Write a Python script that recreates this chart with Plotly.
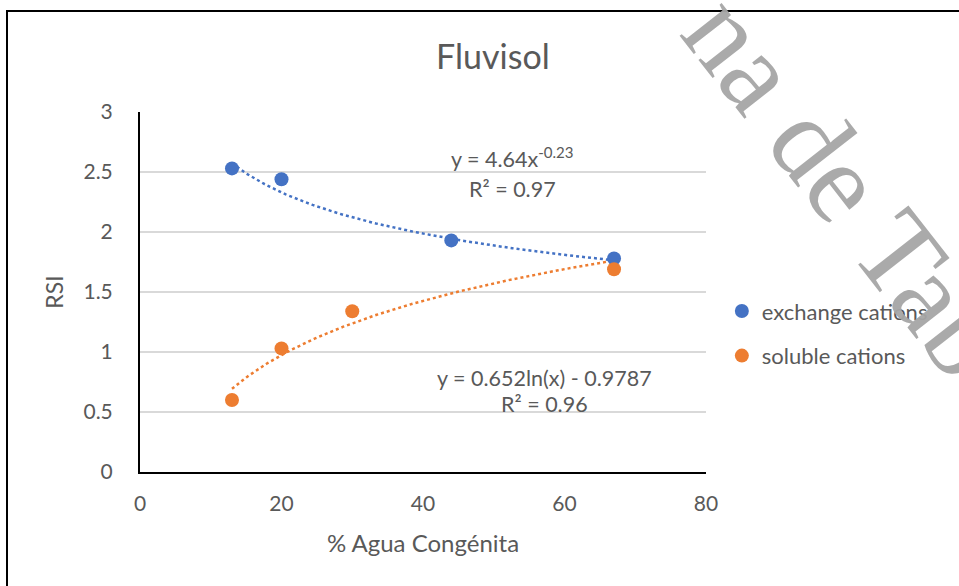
import numpy as np
import plotly.graph_objects as go

# Data
exch_x = [13, 20, 44, 67]
exch_y = [2.53, 2.44, 1.93, 1.78]
sol_x = [13, 20, 30, 67]
sol_y = [0.60, 1.03, 1.34, 1.69]

# Trendline coefficients (as shown on chart)
pow_a, pow_b = 4.64, -0.23
log_a, log_b = 0.652, -0.9787

x_ticks = [0, 20, 40, 60, 80]
y_ticks = [0, 0.5, 1, 1.5, 2, 2.5, 3]

BLUE = "#4472C4"
ORANGE = "#ED7D31"
FONT = "Lato"
GREY = "#595959"

xe = np.linspace(min(exch_x), max(exch_x), 200)
ye = pow_a * xe ** pow_b
xs = np.linspace(min(sol_x), max(sol_x), 200)
ys = log_a * np.log(xs) + log_b

fig = go.Figure()
fig.add_trace(go.Scatter(x=xe, y=ye, mode="lines", line=dict(color=BLUE, width=2.5, dash="dot"),
                         showlegend=False, hoverinfo="skip"))
fig.add_trace(go.Scatter(x=xs, y=ys, mode="lines", line=dict(color=ORANGE, width=2.5, dash="dot"),
                         showlegend=False, hoverinfo="skip"))
fig.add_trace(go.Scatter(x=exch_x, y=exch_y, mode="markers", name="exchange cations",
                         marker=dict(color=BLUE, size=14), legendgroup="a"))
fig.add_trace(go.Scatter(x=sol_x, y=sol_y, mode="markers", name="soluble cations",
                         marker=dict(color=ORANGE, size=14), legendgroup="b"))

fig.update_layout(
    width=959, height=586,
    margin=dict(l=140, r=253, t=112, b=114),
    paper_bgcolor="white", plot_bgcolor="white",
    font=dict(family=FONT, color=GREY, size=21),
    title=dict(text="Fluvisol", x=0.514, xanchor="center", y=0.903, yanchor="middle",
               font=dict(size=34, color=GREY, family=FONT)),
    legend=dict(x=1.028, xanchor="left", y=0.505, yanchor="top", tracegroupgap=13,
                font=dict(size=22, color=GREY), itemwidth=30, bgcolor="rgba(0,0,0,0)"),
    xaxis=dict(range=[0, 80], tickvals=x_ticks, showgrid=False, zeroline=False,
               showline=True, linecolor="black", linewidth=2, ticks="",
               ticklabelstandoff=12, tickfont=dict(size=21, color=GREY),
               title=dict(text="% Agua Congénita", font=dict(size=24, color=GREY), standoff=21)),
    yaxis=dict(range=[0, 3], tickvals=y_ticks, showgrid=True, gridcolor="#D9D9D9", gridwidth=1.5,
               zeroline=False, showline=True, linecolor="black", linewidth=2, ticks="",
               ticklabelstandoff=21, tickfont=dict(size=21, color=GREY),
               title=dict(text="RSI", font=dict(size=23, color=GREY), standoff=13)),
    showlegend=True,
)

ann_font = dict(size=21.5, color=GREY, family=FONT)
fig.add_annotation(x=52.6, y=2.62, xref="x", yref="y", showarrow=False,
                   text=f"y = {pow_a}x<sup>{pow_b}</sup>", font=ann_font)
fig.add_annotation(x=52.6, y=2.36, xref="x", yref="y", showarrow=False,
                   text="R² = 0.97", font=ann_font)
fig.add_annotation(x=57.2, y=0.78, xref="x", yref="y", showarrow=False,
                   text=f"y = {log_a}ln(x) - {abs(log_b)}", font=ann_font)
fig.add_annotation(x=57.2, y=0.57, xref="x", yref="y", showarrow=False,
                   text="R² = 0.96", font=ann_font)

# outer chart border
fig.add_shape(type="rect", xref="paper", yref="paper",
              x0=(7 - 140) / 566, x1=1.6, y0=-0.5, y1=(472 - 11) / 360,
              line=dict(color="black", width=2), fillcolor="rgba(0,0,0,0)", layer="above")

# watermark
fig.add_annotation(xref="paper", yref="paper", x=(862 - 140) / 566, y=(472 - 206) / 360,
                   xanchor="center", yanchor="middle", showarrow=False,
                   text="na de Taba", textangle=52,
                   font=dict(family="Liberation Serif", size=116, color="rgba(165,165,165,0.95)"))

fig.write_html("out.html", post_script="document.body.style.margin='0';",
               config={"displayModeBar": False})
